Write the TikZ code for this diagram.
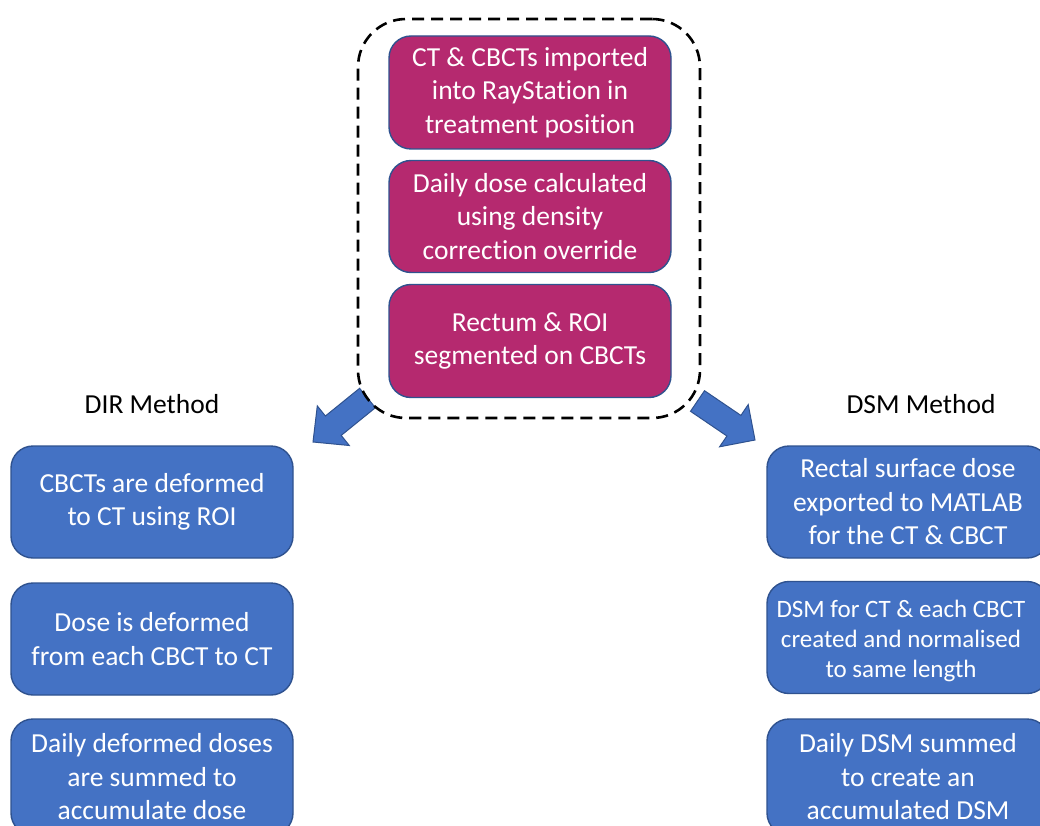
\documentclass[tikz,border=0pt]{standalone}
\usepackage{fontspec}
\setmainfont{Carlito}[Ligatures=NoCommon]
\definecolor{blu}{HTML}{4472C4}
\definecolor{edge}{HTML}{2F528F}
\definecolor{mag}{HTML}{B5296F}
\begin{document}
\begin{tikzpicture}[x=1pt,y=-1pt,
  box/.style={draw=edge, line width=1.4pt, rounded corners=22pt, text=white,
    align=center, minimum width=282pt, minimum height=112pt, inner sep=0pt,
    font=\fontsize{27.5}{33.5}\selectfont},
  magbox/.style={box, fill=mag},
  bluebox/.style={box, fill=blu},
  blockarrow/.style={draw=edge, line width=1pt, fill=blu, line join=miter},
  heading/.style={font=\fontsize{27.5}{30}\selectfont, text=black}]
\useasboundingbox (0,0) rectangle (1040,826);
\clip (0,0) rectangle (1040,826);
\fill[white] (0,0) rectangle (1040,826);

% block arrows leaving the group
\draw[blockarrow] (375.4,407.7) -- (359.6,388.3) -- (325.4,416.0) -- (317.3,405.9)
  -- (313.0,442.0) -- (349.3,445.5) -- (341.2,435.4) -- cycle;
\draw[blockarrow] (690.5,411.3) -- (704.5,390.7) -- (740.9,415.4) -- (748.2,404.6)
  -- (755.0,440.0) -- (719.6,446.8) -- (726.9,436.0) -- cycle;

% shared preparation steps
\node[draw, dashed, dash pattern=on 12pt off 7pt, line width=2.6pt, rounded corners=48pt,
  minimum width=342pt, minimum height=399pt] (group) at (529,218.5) {};
\node[magbox, minimum height=113pt] (import) at (530,92.5) {CT \& CBCTs imported\\into RayStation in\\treatment position};
\node[magbox] (dose) at (530,216.5) {Daily dose calculated\\using density\\correction override};
\node[magbox, minimum height=113pt] (segment) at (530,341) {Rectum \& ROI\\segmented on CBCTs};

% method headings
\node[heading] (dirhead) at (152,404) {DIR Method};
\node[heading] (dsmhead) at (921,404) {DSM Method};

% DIR method
\node[bluebox] (dir1) at (152,502) {CBCTs are deformed\\to CT using ROI};
\node[bluebox] (dir2) at (152,639) {Dose is deformed\\from each CBCT to CT};
\node[bluebox, minimum height=116pt] (dir3) at (152,777) {Daily deformed doses\\are summed to\\accumulate dose};

% DSM method
\node[bluebox] (dsm1) at (908,502) {Rectal surface dose\\exported to MATLAB\\for the CT \& CBCT};
\node[bluebox] (dsm2) at (908,637.5) {};
\node[text=white, align=center, inner sep=0pt, font=\fontsize{25}{30}\selectfont]
  (dsm2text) at (901,641) {DSM for CT \& each CBCT\\created and normalised\\to same length};
\node[bluebox, minimum height=116pt] (dsm3) at (908,777) {Daily DSM summed\\to create an\\accumulated DSM};
\end{tikzpicture}
\end{document}
